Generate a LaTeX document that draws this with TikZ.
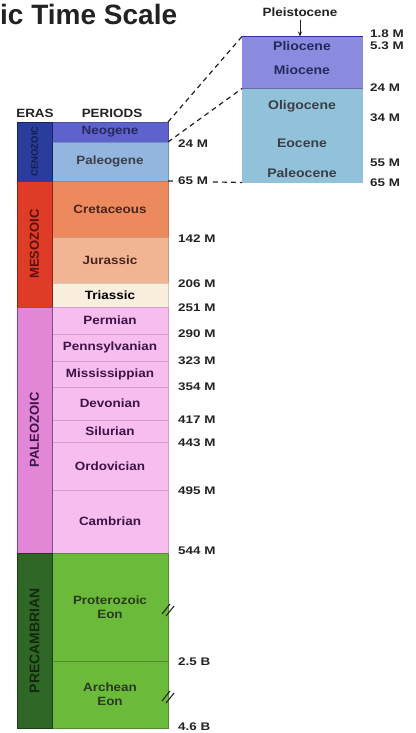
\documentclass[tikz,border=0pt]{standalone}
\usepackage{fontspec}
\setmainfont{Liberation Sans}
\newfontfamily\labfont[FakeStretch=1.22]{Liberation Sans}
\newfontfamily\perfont[FakeStretch=1.12]{Liberation Sans}
\usetikzlibrary{arrows.meta}
\definecolor{cenoE}{HTML}{2A3C9C}
\definecolor{cenoT}{HTML}{141E50}
\definecolor{neoC}{HTML}{5E62CC}
\definecolor{neoT}{HTML}{26285E}
\definecolor{palC}{HTML}{92B6DE}
\definecolor{palT}{HTML}{3A3E48}
\definecolor{mesoE}{HTML}{DE3C26}
\definecolor{mesoT}{HTML}{5A1010}
\definecolor{cretC}{HTML}{EC8A5E}
\definecolor{jurC}{HTML}{F2B594}
\definecolor{triC}{HTML}{FAEEDD}
\definecolor{mesoPT}{HTML}{4A2420}
\definecolor{pzE}{HTML}{E287D6}
\definecolor{pzP}{HTML}{F7BDEE}
\definecolor{pzT}{HTML}{3C1448}
\definecolor{pzLine}{HTML}{D898D0}
\definecolor{pzDiv}{HTML}{7A4A9A}
\definecolor{preE}{HTML}{2F6826}
\definecolor{preP}{HTML}{6CBA3A}
\definecolor{preT}{HTML}{2A3A20}
\definecolor{preTE}{HTML}{14280E}
\definecolor{inNeo}{HTML}{8A8BDE}
\definecolor{inPal}{HTML}{92C2DA}
\definecolor{inTop}{HTML}{3030A0}
\definecolor{ink}{HTML}{222222}
\begin{document}
\begin{tikzpicture}[x=1pt,y=-1pt,
  band/.style={rectangle, inner sep=0pt, outer sep=0pt, minimum width=116pt, line width=0.6pt, align=center,
    font=\perfont\bfseries\fontsize{12}{14}\selectfont},
  erabox/.style={rectangle, inner sep=0pt, outer sep=0pt, minimum width=35pt, line width=0.9pt},
  eratext/.style={rotate=90, inner sep=0pt, font=\bfseries\fontsize{13}{15}\selectfont},
  inband/.style={rectangle, inner sep=0pt, outer sep=0pt, minimum width=121pt},
  epoch/.style={inner sep=0pt, font=\perfont\bfseries\fontsize{12.5}{14}\selectfont},
  age/.style={anchor=west, inner sep=0pt, text=ink, font=\labfont\bfseries\fontsize{11}{13}\selectfont},
  head/.style={inner sep=0pt, text=ink, font=\perfont\bfseries\fontsize{12}{14}\selectfont},
  zoomline/.style={draw=ink, line width=1.2pt, dash pattern=on 5pt off 4pt},
  breakmark/.style={draw=ink, line width=1.1pt}]
\useasboundingbox (0,0) rectangle (415,733);

% title
\node[anchor=base west, inner sep=0pt, text=ink, font=\bfseries\fontsize{28}{30}\selectfont] (title) at (0,25) {ic Time Scale};

% headers
\node[head] (erashead) at (35,113) {ERAS};
\node[head] (perhead) at (112,113) {PERIODS};

% periods
\node[band, fill=neoC, draw=neoC!80!black, minimum height=20pt, text=neoT] (neogene) at (110,132) {Neogene};
\node[band, fill=palC, draw=palC!80!black, minimum height=39pt, text=palT] (paleogene) at (110,161.5) {Paleogene};
\node[band, fill=cretC, draw=cretC!85!black, minimum height=56pt, text=mesoPT] (cret) at (110,209) {Cretaceous};
\node[band, fill=jurC, draw=jurC!85!black, minimum height=46pt, text=mesoPT] (jur) at (110,260) {Jurassic};
\node[band, fill=triC, draw=triC!85!black, minimum height=24pt, text=black] (tri) at (110,295) {Triassic};
\node[band, fill=pzP, draw=pzLine, minimum height=27pt, text=pzT] (perm) at (110,320.5) {Permian};
\node[band, fill=pzP, draw=pzLine, minimum height=27pt, text=pzT] (penn) at (110,347.5) {Pennsylvanian};
\node[band, fill=pzP, draw=pzLine, minimum height=26pt, text=pzT] (miss) at (110,374) {Mississippian};
\node[band, fill=pzP, draw=pzLine, minimum height=33pt, text=pzT] (dev) at (110,403.5) {Devonian};
\node[band, fill=pzP, draw=pzLine, minimum height=22pt, text=pzT] (sil) at (110,431) {Silurian};
\node[band, fill=pzP, draw=pzLine, minimum height=48pt, text=pzT] (ord) at (110,466) {Ordovician};
\node[band, fill=pzP, draw=pzLine, minimum height=63pt, text=pzT] (camb) at (110,521.5) {Cambrian};
\node[band, fill=preP, draw=preP!75!black, minimum height=108pt, text=preT] (prot) at (110,607) {Proterozoic\\Eon};
\node[band, fill=preP, draw=preP!75!black, minimum height=67pt, text=preT] (arch) at (110,694.5) {Archean\\Eon};

% eras
\node[erabox, fill=cenoE, draw=cenoE!60!black, minimum height=59pt] (ceno) at (34.5,151.5) {};
\node[erabox, fill=mesoE, draw=mesoE!60!black, minimum height=126pt] (meso) at (34.5,244) {};
\node[erabox, fill=pzE, draw=pzDiv, minimum height=246pt] (paleoz) at (34.5,430) {};
\node[erabox, fill=preE, draw=preE!60!black, minimum height=175pt] (precam) at (34.5,640.5) {};
\node[eratext, text=cenoT, font=\bfseries\fontsize{9.5}{11}\selectfont] (cenot) at (ceno) {CENOZOIC};
\node[eratext, text=mesoT] (mesot) at (meso) {MESOZOIC};
\node[eratext, text=pzT] (paleozt) at (paleoz) {PALEOZOIC};
\node[eratext, text=preTE, font=\bfseries\fontsize{14}{16}\selectfont] (precamt) at (precam) {PRECAMBRIAN};

% inset
\node[inband, fill=inNeo, minimum height=52pt] (inneo) at (302.5,62.5) {};
\node[inband, fill=inPal, minimum height=94pt] (inpal) at (302.5,135.5) {};
\draw[inTop, line width=1.2pt] (inneo.north west) -- (inneo.north east);
\draw[inNeo!75!black, line width=0.6pt] (inneo.south west) -- (inneo.south east);
\node[epoch, text=neoT] (plio) at (302,46.5) {Pliocene};
\node[epoch, text=neoT] (mio) at (302,70) {Miocene};
\node[epoch, text=palT] (oligo) at (302,106) {Oligocene};
\node[epoch, text=palT] (eoc) at (302,143) {Eocene};
\node[epoch, text=palT] (paleoc) at (302,173) {Paleocene};

% Pleistocene
\node[inner sep=0pt, text=ink, font=\perfont\bfseries\fontsize{12}{14}\selectfont] (pleist) at (300,12) {Pleistocene};
\draw[ink, line width=0.9pt, -{Stealth[length=5pt,width=4pt]}] (pleist.south) ++(0,3) coordinate (pa) (pa) -- (inneo.north -| pa);

% zoom lines
\draw[zoomline] (neogene.north east) -- (inneo.north west);
\draw[zoomline] (neogene.south east) -- (inneo.south west);
\draw[zoomline] (paleogene.south east) -- (inpal.south west);

% ages main
\node[age] (a24) at (178,144) {24 M};
\node[age, fill=white, inner xsep=1.5pt] (a65) at (176.5,181) {65 M};
\node[age] (a142) at (178,239) {142 M};
\node[age] (a206) at (178,284) {206 M};
\node[age] (a251) at (178,308) {251 M};
\node[age] (a290) at (178,334) {290 M};
\node[age] (a323) at (178,361) {323 M};
\node[age] (a354) at (178,387) {354 M};
\node[age] (a417) at (178,420) {417 M};
\node[age] (a443) at (178,443) {443 M};
\node[age] (a495) at (178,491) {495 M};
\node[age] (a544) at (178,551) {544 M};
\node[age] (a25b) at (178,662) {2.5 B};
\node[age] (a46b) at (178,727) {4.6 B};

% ages inset
\node[age] (i18) at (370,34) {1.8 M};
\node[age] (i53) at (370,45.5) {5.3 M};
\node[age] (i24) at (370,88) {24 M};
\node[age] (i34) at (370,118) {34 M};
\node[age] (i55) at (370,163) {55 M};
\node[age] (i65) at (370,183) {65 M};

% break marks
\coordinate (b1) at (prot.east |- 0,609);
\coordinate (b2) at (arch.east |- 0,696);
\foreach \b in {b1,b2}{
  \draw[breakmark] ([shift={(-6,5)}]\b) -- ([shift={(2,-5)}]\b);
  \draw[breakmark] ([shift={(-2,7)}]\b) -- ([shift={(6,-3)}]\b);
}
\end{tikzpicture}
\end{document}
